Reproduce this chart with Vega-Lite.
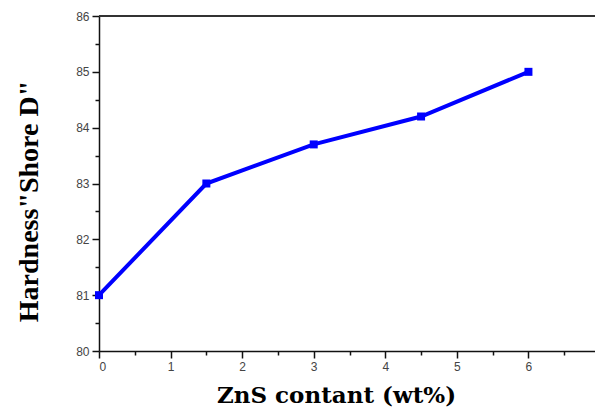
{
  "$schema": "https://vega.github.io/schema/vega-lite/v6.json",
  "width": 496,
  "height": 335,
  "autosize": "none",
  "padding": {"left": 99, "top": 16, "right": 0, "bottom": 57},
  "background": "white",
  "config": {"view": {"stroke": null}},
  "data": {"values": [
    {"x": 0, "y": 81},
    {"x": 1.5, "y": 83},
    {"x": 3, "y": 83.7},
    {"x": 4.5, "y": 84.2},
    {"x": 6, "y": 85}
  ]},
  "resolve": {"axis": {"x": "independent", "y": "independent"}},
  "layer": [
    {
      "mark": {"type": "point", "opacity": 0},
      "encoding": {
        "x": {"field": "x", "type": "quantitative", "scale": {"domain": [0, 6.93], "nice": false, "zero": false},
          "axis": {"orient": "bottom", "values": [0.5, 1.5, 2.5, 3.5, 4.5, 5.5, 6.5], "labels": false, "domain": false, "grid": false, "tickSize": 4, "tickWidth": 1.5, "tickColor": "#111", "title": null}},
        "y": {"field": "y", "type": "quantitative", "scale": {"domain": [80, 86], "nice": false, "zero": false},
          "axis": {"orient": "left", "values": [80.5, 81.5, 82.5, 83.5, 84.5, 85.5], "labels": false, "domain": false, "grid": false, "tickSize": 4, "tickWidth": 1.5, "tickColor": "#111", "title": null}}
      }
    },
    {
      "mark": {"type": "rule", "color": "#333", "strokeWidth": 1.5},
      "encoding": {"y": {"datum": 86, "axis": null}}
    },
    {
      "mark": {"type": "line", "color": "#0000ff", "strokeWidth": 4},
      "encoding": {
        "x": {"field": "x", "type": "quantitative",
          "axis": {"orient": "bottom", "values": [0, 1, 2, 3, 4, 5, 6], "grid": false, "domainColor": "#111", "domainWidth": 1.5, "tickColor": "#111", "tickWidth": 1.5, "tickSize": 7,
            "labelFont": "Liberation Sans", "labelFontSize": 12, "labelColor": "#444", "labelPadding": 3,
            "title": "ZnS contant (wt%)", "titleFont": "DejaVu Serif", "titleFontSize": 23, "titleFontWeight": "bold", "titleColor": "#000", "titleX": 237, "titleY": 51, "titleBaseline": "alphabetic", "titleAlign": "center"}},
        "y": {"field": "y", "type": "quantitative",
          "axis": {"orient": "left", "values": [80, 81, 82, 83, 84, 85, 86], "grid": false, "domainColor": "#111", "domainWidth": 1.5, "tickColor": "#111", "tickWidth": 1.5, "tickSize": 7,
            "labelFont": "Liberation Sans", "labelFontSize": 12, "labelColor": "#444", "labelPadding": 3,
            "title": "Hardness\"Shore D\"", "titleFont": "Liberation Serif", "titleFontSize": 28, "titleFontWeight": "bold", "titleColor": "#000", "titleY": 185, "titleX": -62, "titleBaseline": "alphabetic", "titleAlign": "center", "titleAngle": -90}}
      }
    },
    {
      "mark": {"type": "square", "color": "#0000ff", "filled": true, "opacity": 1, "size": 64},
      "encoding": {
        "x": {"field": "x", "type": "quantitative", "axis": null},
        "y": {"field": "y", "type": "quantitative", "axis": null}
      }
    }
  ]
}
